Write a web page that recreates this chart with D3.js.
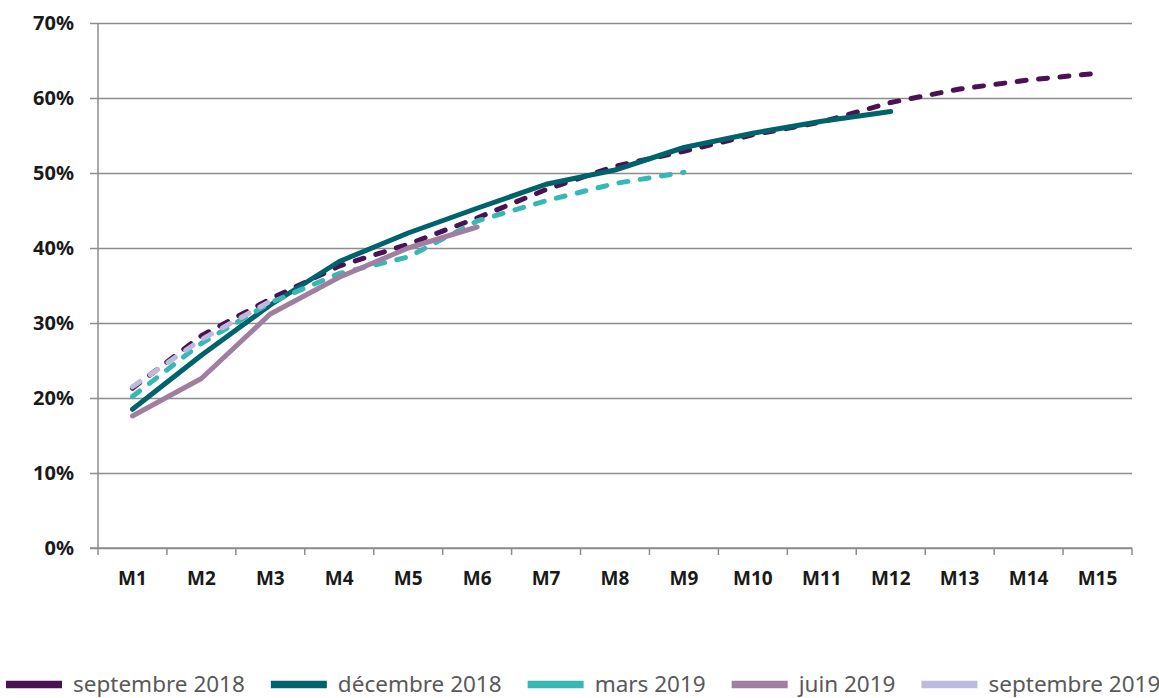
<!DOCTYPE html>
<html>
<head>
<meta charset="utf-8">
<title>Courbes</title>
<script src="https://d3js.org/d3.v7.min.js"></script>
<style>
  body { margin: 0; background: #fff; }
  text { font-family: "Noto Sans", "Open Sans", sans-serif; }
</style>
</head>
<body>
<div id="chart"></div>
<script>
const width = 1159, height = 698;
const margin = {top: 23, right: 27, bottom: 150, left: 98};

// données (en %)
const months = ["M1","M2","M3","M4","M5","M6","M7","M8","M9","M10","M11","M12","M13","M14","M15"];
const yTicks = [0, 10, 20, 30, 40, 50, 60, 70];
const sept2018 = [21.3, 28.3, 33.2, 37.6, 40.5, 44.0, 47.8, 50.9, 52.9, 55.1, 56.8, 59.4, 61.2, 62.4, 63.3];
const dec2018  = [18.5, 25.7, 32.4, 38.2, 42.0, 45.3, 48.5, 50.4, 53.4, 55.3, 56.9, 58.2];
const mars2019 = [20.2, 27.3, 32.7, 36.6, 38.8, 43.6, 46.3, 48.6, 50.1];
const juin2019 = [17.6, 22.6, 31.2, 36.1, 40.0, 42.8];
const sept2019 = [21.5, 27.8, 32.9];

const series = [
  {name: "septembre 2018", values: sept2018, color: "#4a1252", dash: true},
  {name: "décembre 2018",  values: dec2018,  color: "#00626b", dash: false},
  {name: "mars 2019",      values: mars2019, color: "#38b8b4", dash: true},
  {name: "juin 2019",      values: juin2019, color: "#a07ea0", dash: false},
  {name: "septembre 2019", values: sept2019, color: "#bdbade", dash: true}
];

const svg = d3.select("#chart").append("svg")
  .attr("width", width)
  .attr("height", height);

const x = d3.scaleBand()
  .domain(months)
  .range([margin.left, width - margin.right]);

const y = d3.scaleLinear()
  .domain([0, 70])
  .range([height - margin.bottom, margin.top]);

const grid = "#8c8c8c";

// grille horizontale + petites marques à gauche
svg.append("g")
  .attr("transform", "translate(" + margin.left + ",0)")
  .call(d3.axisLeft(y).tickValues(yTicks).tickSize(8).tickFormat(d => d + "%"))
  .call(g => g.select(".domain").remove())
  .call(g => g.selectAll(".tick line").attr("stroke", grid).attr("stroke-width", 1.5))
  .call(g => g.selectAll(".tick line").clone()
      .attr("x1", 0)
      .attr("x2", width - margin.right - margin.left))
  .call(g => g.selectAll(".tick text")
      .attr("x", -24)
      .attr("fill", "#1a1a1a")
      .style("font-size", "20px")
      .style("font-weight", "bold"));

// axe vertical
svg.append("line")
  .attr("x1", margin.left).attr("x2", margin.left)
  .attr("y1", margin.top).attr("y2", y(0))
  .attr("stroke", grid).attr("stroke-width", 1.5);

// axe des mois, marques entre les catégories
const xAxis = svg.append("g")
  .attr("transform", "translate(0," + y(0) + ")");

xAxis.append("line")
  .attr("x1", margin.left - 8).attr("x2", width - margin.right)
  .attr("stroke", grid).attr("stroke-width", 1.5);

xAxis.selectAll(".sep")
  .data(d3.range(months.length + 1))
  .enter().append("line")
  .attr("x1", i => margin.left + i * x.step())
  .attr("x2", i => margin.left + i * x.step())
  .attr("y1", 0).attr("y2", 7)
  .attr("stroke", grid).attr("stroke-width", 1.5);

xAxis.selectAll(".lab")
  .data(months)
  .enter().append("text")
  .attr("x", d => x(d) + x.bandwidth() / 2)
  .attr("y", 30)
  .attr("dy", "0.35em")
  .attr("text-anchor", "middle")
  .attr("fill", "#1a1a1a")
  .style("font-size", "19px")
  .style("font-weight", "bold")
  .text(d => d);

// courbes
const line = d3.line()
  .x((d, i) => x(months[i]) + x.bandwidth() / 2)
  .y(d => y(d));

svg.append("g").selectAll("path")
  .data(series)
  .enter().append("path")
  .attr("d", d => line(d.values))
  .attr("fill", "none")
  .attr("stroke", d => d.color)
  .attr("stroke-width", 5)
  .attr("stroke-linecap", "round")
  .attr("stroke-linejoin", "round")
  .attr("stroke-dasharray", d => d.dash ? "9,12.5" : null);

// légende
const legend = svg.append("g").attr("transform", "translate(6,684.5)");
let lx = 0;
series.forEach(function(s) {
  legend.append("rect")
    .attr("x", lx).attr("y", -3.75)
    .attr("width", 56).attr("height", 7.5)
    .attr("fill", s.color);
  const t = legend.append("text")
    .attr("x", lx + 67)
    .attr("y", 0)
    .attr("dy", "0.35em")
    .attr("fill", "#595959")
    .style("font-size", "22.5px")
    .text(s.name);
  lx += 67 + t.node().getComputedTextLength() + 26;
});
</script>
</body>
</html>
